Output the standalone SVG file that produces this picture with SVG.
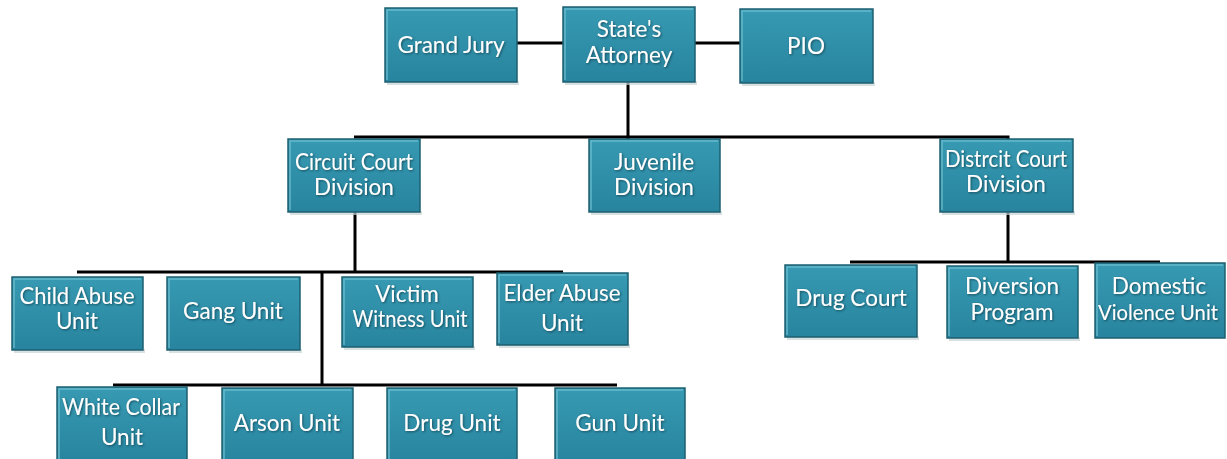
<svg xmlns="http://www.w3.org/2000/svg" width="1227" height="459" viewBox="0 0 1227 459">
<style>
.box{fill:url(#g);stroke:#1d5f70;stroke-width:1.5}
.hl{fill:none;stroke:#6fc0d3;stroke-width:1.5;opacity:.8}
.sh{fill:#c9d3d6;opacity:.7}
.t{font-family:Lato,"Open Sans",sans-serif;font-size:22.5px;fill:#ffffff;text-anchor:middle;filter:url(#ts)}
.c{stroke:#000;stroke-width:3;fill:none}
</style>
<defs>
<linearGradient id="g" x1="0" y1="0" x2="0" y2="1">
<stop offset="0" stop-color="#379ab2"/>
<stop offset="1" stop-color="#28849e"/>
</linearGradient>
<filter id="ts" x="-5%" y="-20%" width="110%" height="160%">
<feDropShadow dx="1" dy="1" stdDeviation="0.8" flood-color="#0c3540" flood-opacity="0.7"/>
</filter>
</defs>
<rect width="1227" height="459" fill="#ffffff"/>
<g id="connectors">
<path class="c" d="M517 43H563M695 43H740M628 82V137M354 137H1008V139M628 137V139M355 212V272M77 272H563M322 272V385M113 385H617M1008 212V262M850 262H1160"/>
</g>
<g id="grand-jury"><rect class="sh" x="387" y="81" width="132" height="4"/><rect class="box" x="385" y="8" width="132" height="74"/><path class="hl" d="M387 80V10H515"/><text class="t" x="451" y="53">Grand Jury</text></g>
<g id="states-attorney"><rect class="sh" x="565" y="81" width="132" height="4"/><rect class="box" x="563" y="7" width="132" height="75"/><path class="hl" d="M565 80V9H693"/><text class="t" x="629" y="37">State's</text><text class="t" x="629" y="63">Attorney</text></g>
<g id="pio"><rect class="sh" x="742" y="82" width="133" height="4"/><rect class="box" x="740" y="9" width="133" height="74"/><path class="hl" d="M742 81V11H871"/><text class="t" x="806" y="54">PIO</text></g>
<g id="circuit-court"><rect class="sh" x="290" y="211" width="132" height="4"/><rect class="box" x="288" y="139" width="132" height="73"/><path class="hl" d="M290 210V141H418"/><text class="t" x="354" y="170" textLength="118" lengthAdjust="spacingAndGlyphs">Circuit Court</text><text class="t" x="354" y="195">Division</text></g>
<g id="juvenile"><rect class="sh" x="591" y="211" width="131" height="4"/><rect class="box" x="589" y="139" width="131" height="73"/><path class="hl" d="M591 210V141H718"/><text class="t" x="654" y="170">Juvenile</text><text class="t" x="654" y="195">Division</text></g>
<g id="district-court"><rect class="sh" x="942" y="211" width="133" height="4"/><rect class="box" x="940" y="139" width="133" height="73"/><path class="hl" d="M942 210V141H1071"/><text class="t" x="1006" y="167" textLength="122" lengthAdjust="spacingAndGlyphs">Distrcit Court</text><text class="t" x="1006" y="192">Division</text></g>
<g id="child-abuse"><rect class="sh" x="14" y="349" width="131" height="4"/><rect class="box" x="12" y="277" width="131" height="73"/><path class="hl" d="M14 348V279H141"/><text class="t" x="77" y="304" textLength="115" lengthAdjust="spacingAndGlyphs">Child Abuse</text><text class="t" x="77" y="329">Unit</text></g>
<g id="gang-unit"><rect class="sh" x="169" y="349" width="133" height="4"/><rect class="box" x="167" y="277" width="133" height="73"/><path class="hl" d="M169 348V279H298"/><text class="t" x="233" y="319">Gang Unit</text></g>
<g id="victim-witness"><rect class="sh" x="344" y="346" width="131" height="4"/><rect class="box" x="342" y="277" width="131" height="70"/><path class="hl" d="M344 345V279H471"/><text class="t" x="407" y="302">Victim</text><text class="t" x="410" y="327" textLength="115" lengthAdjust="spacingAndGlyphs">Witness Unit</text></g>
<g id="elder-abuse"><rect class="sh" x="499" y="344" width="131" height="4"/><rect class="box" x="497" y="273" width="131" height="72"/><path class="hl" d="M499 343V275H626"/><text class="t" x="562" y="301" textLength="117" lengthAdjust="spacingAndGlyphs">Elder Abuse</text><text class="t" x="562" y="331">Unit</text></g>
<g id="drug-court"><rect class="sh" x="787" y="336" width="132" height="4"/><rect class="box" x="785" y="265" width="132" height="72"/><path class="hl" d="M787 335V267H915"/><text class="t" x="851" y="306">Drug Court</text></g>
<g id="diversion"><rect class="sh" x="949" y="337" width="131" height="4"/><rect class="box" x="947" y="266" width="131" height="72"/><path class="hl" d="M949 336V268H1076"/><text class="t" x="1012" y="294">Diversion</text><text class="t" x="1012" y="320">Program</text></g>
<g id="domestic-violence"><rect class="box" x="1095" y="263" width="130" height="75"/><path class="hl" d="M1097 336V265H1223"/><text class="t" x="1159" y="294">Domestic</text><text class="t" x="1158" y="320" style="font-size:21px" textLength="120" lengthAdjust="spacingAndGlyphs">Violence Unit</text></g>
<g id="white-collar"><rect class="box" x="57" y="387" width="130" height="76"/><path class="hl" d="M59 460V389H185"/><text class="t" x="121" y="415" textLength="118" lengthAdjust="spacingAndGlyphs">White Collar</text><text class="t" x="122" y="445">Unit</text></g>
<g id="arson-unit"><rect class="box" x="222" y="388" width="131" height="75"/><path class="hl" d="M224 460V390H351"/><text class="t" x="287" y="431">Arson Unit</text></g>
<g id="drug-unit"><rect class="box" x="387" y="388" width="130" height="75"/><path class="hl" d="M389 460V390H515"/><text class="t" x="452" y="431">Drug Unit</text></g>
<g id="gun-unit"><rect class="box" x="555" y="388" width="130" height="75"/><path class="hl" d="M557 460V390H683"/><text class="t" x="620" y="431">Gun Unit</text></g>
</svg>
